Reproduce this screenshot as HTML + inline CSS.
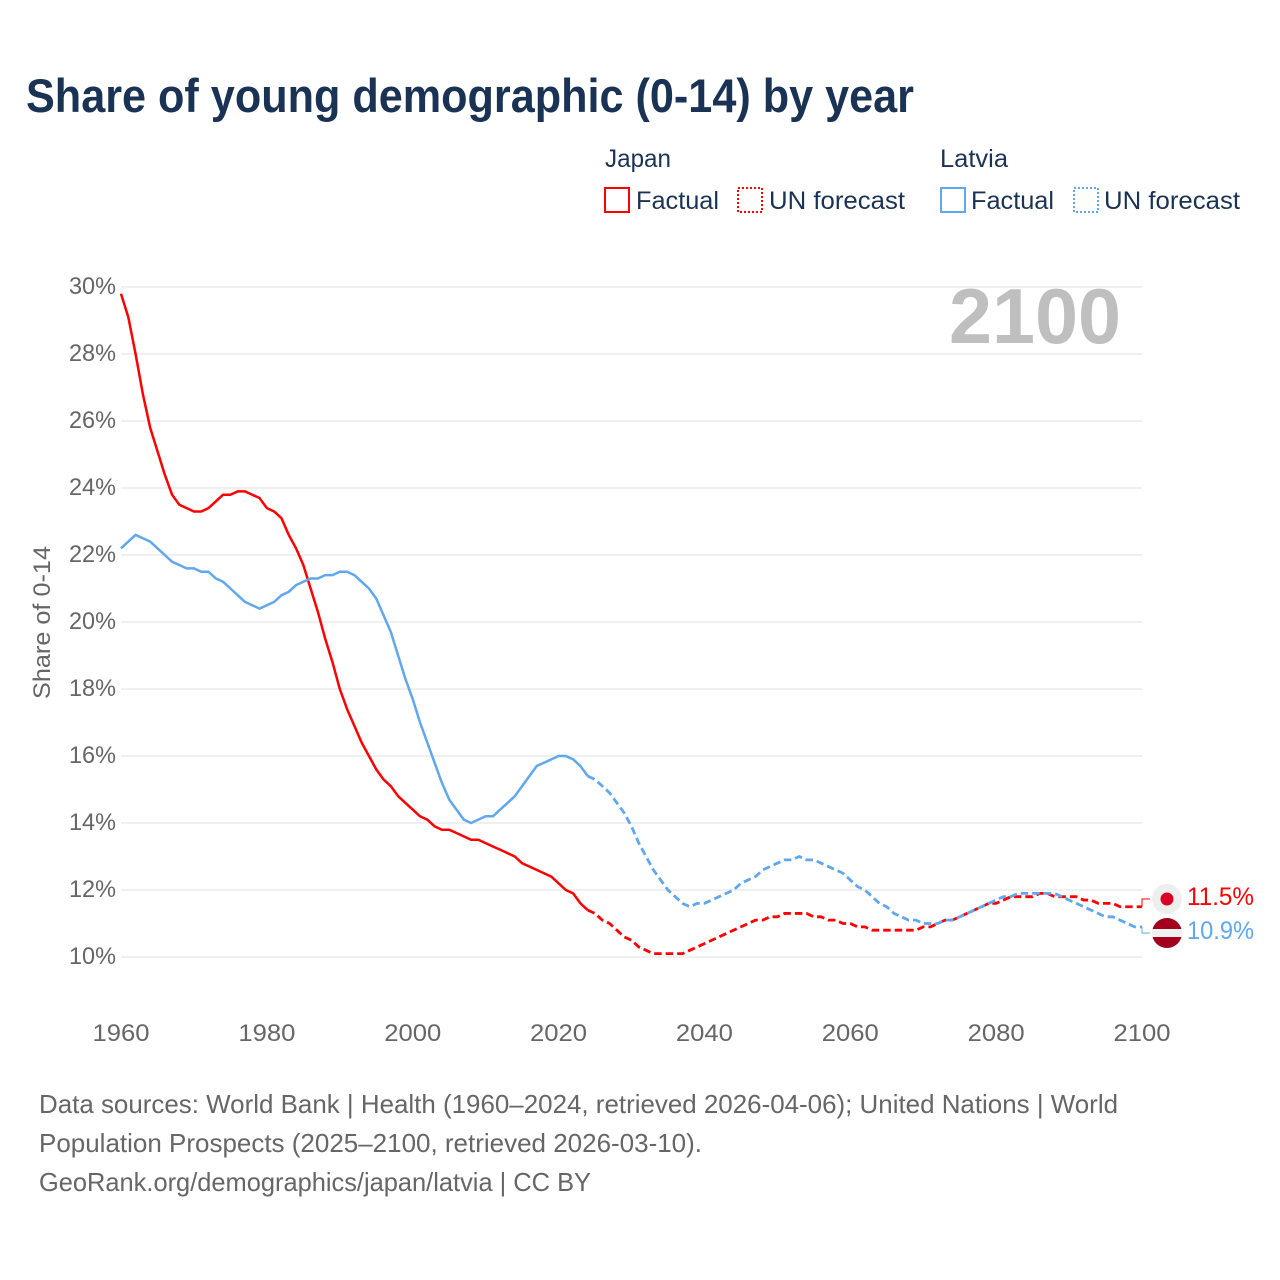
<!DOCTYPE html>
<html lang="en">
<head>
<meta charset="utf-8">
<title>Share of young demographic (0-14) by year</title>
<style>
html,body{margin:0;padding:0;background:#fff;width:1280px;height:1280px;overflow:hidden}
svg{display:block;font-family:"Liberation Sans",sans-serif}
.navy{fill:#1a3354}
.grey{fill:#666}
</style>
</head>
<body>
<svg id="chart" xmlns="http://www.w3.org/2000/svg" width="1280" height="1280" viewBox="0 0 1280 1280">
  <text class="navy" x="26" y="112" font-size="47" font-weight="700" textLength="888" lengthAdjust="spacingAndGlyphs">Share of young demographic (0-14) by year</text>

  <g>
    <text class="navy" x="605" y="167" font-size="25" textLength="66" lengthAdjust="spacingAndGlyphs">Japan</text>
    <text class="navy" x="940" y="167" font-size="25" textLength="68" lengthAdjust="spacingAndGlyphs">Latvia</text>
    <g>
      <rect x="605" y="188" width="24" height="24" fill="none" stroke="#ff0000" stroke-width="2"/>
      <text class="navy" x="636" y="209" font-size="25" textLength="83" lengthAdjust="spacingAndGlyphs">Factual</text>
    </g>
    <g>
      <rect x="738" y="188" width="24" height="24" fill="none" stroke="#ff0000" stroke-width="2" stroke-dasharray="2 2"/>
      <text class="navy" x="769" y="209" font-size="25" textLength="136" lengthAdjust="spacingAndGlyphs">UN forecast</text>
    </g>
    <g>
      <rect x="941" y="188" width="24" height="24" fill="none" stroke="#5fa8ee" stroke-width="2"/>
      <text class="navy" x="971" y="209" font-size="25" textLength="83" lengthAdjust="spacingAndGlyphs">Factual</text>
    </g>
    <g>
      <rect x="1074" y="188" width="24" height="24" fill="none" stroke="#5fa8ee" stroke-width="2" stroke-dasharray="2 2"/>
      <text class="navy" x="1104" y="209" font-size="25" textLength="136" lengthAdjust="spacingAndGlyphs">UN forecast</text>
    </g>
  </g>

  <g id="grid"></g>
  <g id="yticks"></g>
  <g id="xticks"></g>

  <text class="grey" transform="translate(50,699) rotate(-90)" font-size="24" textLength="153" lengthAdjust="spacingAndGlyphs">Share of 0-14</text>
  <text x="949" y="343" font-size="78" font-weight="700" fill="#bfbfbf" textLength="172" lengthAdjust="spacingAndGlyphs">2100</text>

  <g id="series"></g>

  <g>
    <circle cx="1167" cy="899" r="15" fill="#eeeeee"/>
    <circle cx="1167" cy="899" r="6.5" fill="#d80027"/>
  </g>
  <g>
    <circle cx="1167" cy="933" r="15" fill="#a2001d"/>
    <rect x="1152" y="929" width="30" height="8" fill="#f0f0f0"/>
  </g>

  <g>
    <text class="grey" x="39" y="1113" font-size="26" textLength="1079" lengthAdjust="spacingAndGlyphs">Data sources: World Bank | Health (1960–2024, retrieved 2026-04-06); United Nations | World</text>
    <text class="grey" x="39" y="1152" font-size="26" textLength="663" lengthAdjust="spacingAndGlyphs">Population Prospects (2025–2100, retrieved 2026-03-10).</text>
    <text class="grey" x="39" y="1191" font-size="26" textLength="552" lengthAdjust="spacingAndGlyphs">GeoRank.org/demographics/japan/latvia | CC BY</text>
  </g>
</svg>

<script>
const xTickYears = [1960, 1980, 2000, 2020, 2040, 2060, 2080, 2100];
const yTickValues = [10, 12, 14, 16, 18, 20, 22, 24, 26, 28, 30];

const factualStartYear = 1960;
const forecastStartYear = 2024;

const japanFactual = [29.8,29.1,28.0,26.8,25.8,25.1,24.4,23.8,23.5,23.4,23.3,23.3,23.4,23.6,23.8,23.8,23.9,23.9,23.8,23.7,23.4,23.3,23.1,22.6,22.2,21.7,21.0,20.3,19.5,18.8,18.0,17.4,16.9,16.4,16.0,15.6,15.3,15.1,14.8,14.6,14.4,14.2,14.1,13.9,13.8,13.8,13.7,13.6,13.5,13.5,13.4,13.3,13.2,13.1,13.0,12.8,12.7,12.6,12.5,12.4,12.2,12.0,11.9,11.6,11.4];
const japanForecast = [11.4,11.3,11.1,11.0,10.8,10.6,10.5,10.3,10.2,10.1,10.1,10.1,10.1,10.1,10.2,10.3,10.4,10.5,10.6,10.7,10.8,10.9,11.0,11.1,11.1,11.2,11.2,11.3,11.3,11.3,11.3,11.2,11.2,11.1,11.1,11.0,11.0,10.9,10.9,10.8,10.8,10.8,10.8,10.8,10.8,10.8,10.9,10.9,11.0,11.1,11.1,11.2,11.3,11.4,11.5,11.6,11.6,11.7,11.8,11.8,11.8,11.8,11.9,11.9,11.8,11.8,11.8,11.8,11.7,11.7,11.6,11.6,11.6,11.5,11.5,11.5,11.5];
const latviaFactual = [22.2,22.4,22.6,22.5,22.4,22.2,22.0,21.8,21.7,21.6,21.6,21.5,21.5,21.3,21.2,21.0,20.8,20.6,20.5,20.4,20.5,20.6,20.8,20.9,21.1,21.2,21.3,21.3,21.4,21.4,21.5,21.5,21.4,21.2,21.0,20.7,20.2,19.7,19.0,18.3,17.7,17.0,16.4,15.8,15.2,14.7,14.4,14.1,14.0,14.1,14.2,14.2,14.4,14.6,14.8,15.1,15.4,15.7,15.8,15.9,16.0,16.0,15.9,15.7,15.4];
const latviaForecast = [15.4,15.3,15.1,14.9,14.6,14.3,13.9,13.4,13.0,12.6,12.3,12.0,11.8,11.6,11.5,11.6,11.6,11.7,11.8,11.9,12.0,12.2,12.3,12.4,12.6,12.7,12.8,12.9,12.9,13.0,12.9,12.9,12.8,12.7,12.6,12.5,12.3,12.1,12.0,11.8,11.6,11.5,11.3,11.2,11.1,11.1,11.0,11.0,11.0,11.1,11.1,11.2,11.3,11.4,11.5,11.6,11.7,11.8,11.8,11.9,11.9,11.9,11.9,11.9,11.9,11.8,11.7,11.6,11.5,11.4,11.3,11.2,11.2,11.1,11.0,10.9,10.9];

const NS = 'http://www.w3.org/2000/svg';
const xScale = function (year) { return 121 + (year - 1960) * (1021 / 140); };
const yScale = function (pct) { return 957 - (pct - 10) * 33.5; };

function pathFrom(values, startYear) {
  return values.map(function (v, i) {
    return (i ? 'L' : 'M') + xScale(startYear + i).toFixed(2) + ' ' + yScale(v).toFixed(2);
  }).join(' ');
}

const grid = document.getElementById('grid');
const yticks = document.getElementById('yticks');
const xticks = document.getElementById('xticks');
const series = document.getElementById('series');

yTickValues.forEach(function (v) {
  const line = document.createElementNS(NS, 'line');
  
  
  line.setAttribute('x1', 121);
  line.setAttribute('x2', 1142);
  line.setAttribute('y1', yScale(v));
  line.setAttribute('y2', yScale(v));
  line.setAttribute('stroke', '#ebebeb');
  line.setAttribute('stroke-width', '1.5');
  grid.appendChild(line);

  const label = document.createElementNS(NS, 'text');
  
  
  label.setAttribute('class', 'grey');
  label.setAttribute('x', 69);
  label.setAttribute('y', yScale(v) + 7);
  label.setAttribute('font-size', '24');
  label.setAttribute('textLength', '47');
  label.setAttribute('lengthAdjust', 'spacingAndGlyphs');
  label.textContent = v + '%';
  yticks.appendChild(label);
});

xTickYears.forEach(function (y) {
  const label = document.createElementNS(NS, 'text');
  
  
  label.setAttribute('class', 'grey');
  label.setAttribute('x', xScale(y) - 28.5);
  label.setAttribute('y', 1041);
  label.setAttribute('font-size', '24');
  label.setAttribute('textLength', '57');
  label.setAttribute('lengthAdjust', 'spacingAndGlyphs');
  label.textContent = y;
  xticks.appendChild(label);
});

function addLine(values, startYear, color, dashed, name) {
  const p = document.createElementNS(NS, 'path');
  
  
  p.setAttribute('d', pathFrom(values, startYear));
  p.setAttribute('fill', 'none');
  p.setAttribute('stroke', color);
  p.setAttribute('stroke-width', dashed ? '2.8' : '2.5');
  p.setAttribute('stroke-linejoin', 'round');
  if (dashed) p.setAttribute('stroke-dasharray', '7.5 4');
  series.appendChild(p);
}

addLine(japanFactual, factualStartYear, '#ff0000', false, 'japan-factual-line');
addLine(japanForecast, forecastStartYear, '#ff0000', true, 'japan-forecast-line');
addLine(latviaFactual, factualStartYear, '#5fa8ee', false, 'latvia-factual-line');
addLine(latviaForecast, forecastStartYear, '#5fa8ee', true, 'latvia-forecast-line');

function addEndLabel(values, color, flagY, labelY, name, text) {
  const last = yScale(values[values.length - 1]);
  const c = document.createElementNS(NS, 'path');
  
  
  c.setAttribute('d', 'M1142 ' + last + ' L1142 ' + flagY + ' L1150 ' + flagY);
  c.setAttribute('fill', 'none');
  c.setAttribute('stroke', color);
  c.setAttribute('stroke-width', '1');
  series.appendChild(c);

  const t = document.createElementNS(NS, 'text');
  
  
  t.setAttribute('x', 1187);
  t.setAttribute('y', labelY);
  t.setAttribute('font-size', '25');
  t.setAttribute('fill', color);
  t.setAttribute('textLength', '67');
  t.setAttribute('lengthAdjust', 'spacingAndGlyphs');
  t.textContent = text;
  series.appendChild(t);
}

addEndLabel(japanForecast, '#ff0000', 899, 905, 'japan', japanForecast[japanForecast.length - 1].toFixed(1) + '%');
addEndLabel(latviaForecast, '#5fa8ee', 933, 939, 'latvia', latviaForecast[latviaForecast.length - 1].toFixed(1) + '%');
</script>
</body>
</html>
